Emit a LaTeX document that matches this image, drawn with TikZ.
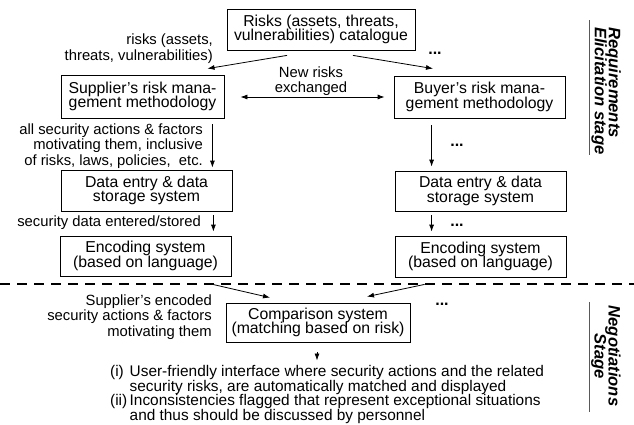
\documentclass[tikz,border=0pt]{standalone}
\usepackage{fontspec}
\setmainfont{Liberation Sans}
\usetikzlibrary{arrows.meta,positioning}
\newcommand\tightlines{\setlength{\lineskiplimit}{-10pt}}

\begin{document}
\begin{tikzpicture}[x=1pt,y=-1pt,
  blk/.style={draw,line width=0.8pt,align=center,minimum height=41pt},
  arr/.style={-{Latex[length=7pt,width=5pt]},line width=0.8pt},
  arrboth/.style={{Latex[length=7pt,width=5pt]}-{Latex[length=7pt,width=5pt]},line width=0.8pt},
  lbl/.style={align=right,anchor=east,font=\fontsize{14.8}{15.5}\selectfont\tightlines},
  dots/.style={font=\fontsize{16}{14.5}\selectfont\bfseries},
  sepline/.style={line width=1.6pt,dash pattern=on 10pt off 7pt},
  stageline/.style={draw=black!65,line width=1pt},
  stage/.style={rotate=-90,font=\fontsize{16.6}{14}\selectfont\bfseries\itshape\tightlines}]
\tikzstyle{every node}+=[inner sep=0pt,font=\fontsize{15.8}{14.5}\selectfont\tightlines]
\useasboundingbox (0,0) rectangle (634,424);
\node[blk,minimum width=188pt] (cat) at (321,29.5) {Risks (assets, threats,\\vulnerabilities) catalogue};
\node[blk,minimum width=163pt,minimum height=43pt] (sup) at (142.5,96.5) {Supplier's risk mana-\\gement methodology};
\node[blk,minimum width=171pt,minimum height=42pt] (buy) at (479.5,97) {Buyer's risk mana-\\gement methodology};
\node[blk,minimum width=171pt] (dsl) at (146.5,190.5) {Data entry \& data\\storage system};
\node[blk,minimum width=171pt,minimum height=40pt] (dsr) at (480.5,191) {Data entry \& data\\storage system};
\node[blk,minimum width=171pt,minimum height=40pt] (enl) at (145.5,256) {Encoding system\\(based on language)};
\node[blk,minimum width=171pt] (enr) at (480.5,256.5) {Encoding system\\(based on language)};
\node[blk,minimum width=184pt,minimum height=39pt] (cmp) at (318,322.5) {Comparison system\\(matching based on risk)};
\node[lbl] (lrisk) at (213,48.5) {risks (assets,\\threats, vulnerabilities)};
\node[align=center,font=\fontsize{14.8}{15.5}\selectfont] (lnew) at (311,81) {New risks\\exchanged};
\node[lbl] (lall) at (203,146) {all security actions \& factors\\motivating them, inclusive\\of risks, laws, policies, \ etc.};
\node[lbl] (lsec) at (201,223) {security data entered/stored};
\node[lbl] (lenc) at (212,317) {Supplier's encoded\\security actions \& factors\\motivating them};
\node[dots] (d1) at (435,53) {...};
\node[dots] (d2) at (457,145) {...};
\node[dots] (d3) at (457,225) {...};
\node[dots] (d4) at (442,304) {...};
\node[align=left,anchor=north west,font=\fontsize{15.4}{14.4}\selectfont\tightlines] (res) at (110,365.5)
  {\makebox[19.5pt][l]{(i)}User-friendly interface where security actions and the related\\
   \hspace*{19.5pt}security risks, are automatically matched and displayed\\
   \makebox[19.5pt][l]{(ii)}Inconsistencies flagged that represent exceptional situations\\
   \hspace*{19.5pt}and thus should be discussed by personnel};
\coordinate (resin) at (317,360.5);
\draw[sepline] (0,284) -- (634,284);
\draw[arr] ([xshift=-34pt,yshift=-5pt]cat.south) -- ([xshift=65pt,yshift=6pt]sup.north);
\draw[arr] ([xshift=32pt,yshift=-5pt]cat.south) -- ([xshift=-46.5pt,yshift=7pt]buy.north);
\draw[arrboth] ([xshift=16pt,yshift=-0.5pt]sup.east) -- ([xshift=-9pt]buy.west);
\draw[arr] ([xshift=-12pt,yshift=-6pt]sup.south east) -- ([xshift=-20pt,yshift=2pt]dsl.north east);
\draw[arr] ([xshift=-19pt,yshift=-4pt]dsl.south east) -- ([xshift=-18pt,yshift=4pt]enl.north east);
\draw[arr] ([xshift=38pt,yshift=-7pt]buy.south west) -- ([xshift=37pt,yshift=4pt]dsr.north west);
\draw[arr] ([xshift=37pt,yshift=-4pt]dsr.south west) -- ([xshift=37pt,yshift=4pt]enr.north west);
\draw[arr] ([xshift=-23pt,yshift=-7pt]enl.south east) -- ([xshift=-48pt,yshift=5pt]cmp.north);
\draw[arr] ([xshift=30pt,yshift=-7pt]enr.south west) -- ([xshift=49pt,yshift=6pt]cmp.north);
\draw[arr] ([xshift=-1pt,yshift=-10pt]cmp.south) -- (resin);
\draw[stageline] (589,20) -- (589,155);
\node[stage,anchor=north west,align=left] (req) at (621,27) {Requirements\\Elicitation stage};
\draw[stageline] (589,302) -- (589,412);
\node[stage,align=center] (neg) at (606,356) {Negotiations\\Stage};
\end{tikzpicture}
\end{document}
